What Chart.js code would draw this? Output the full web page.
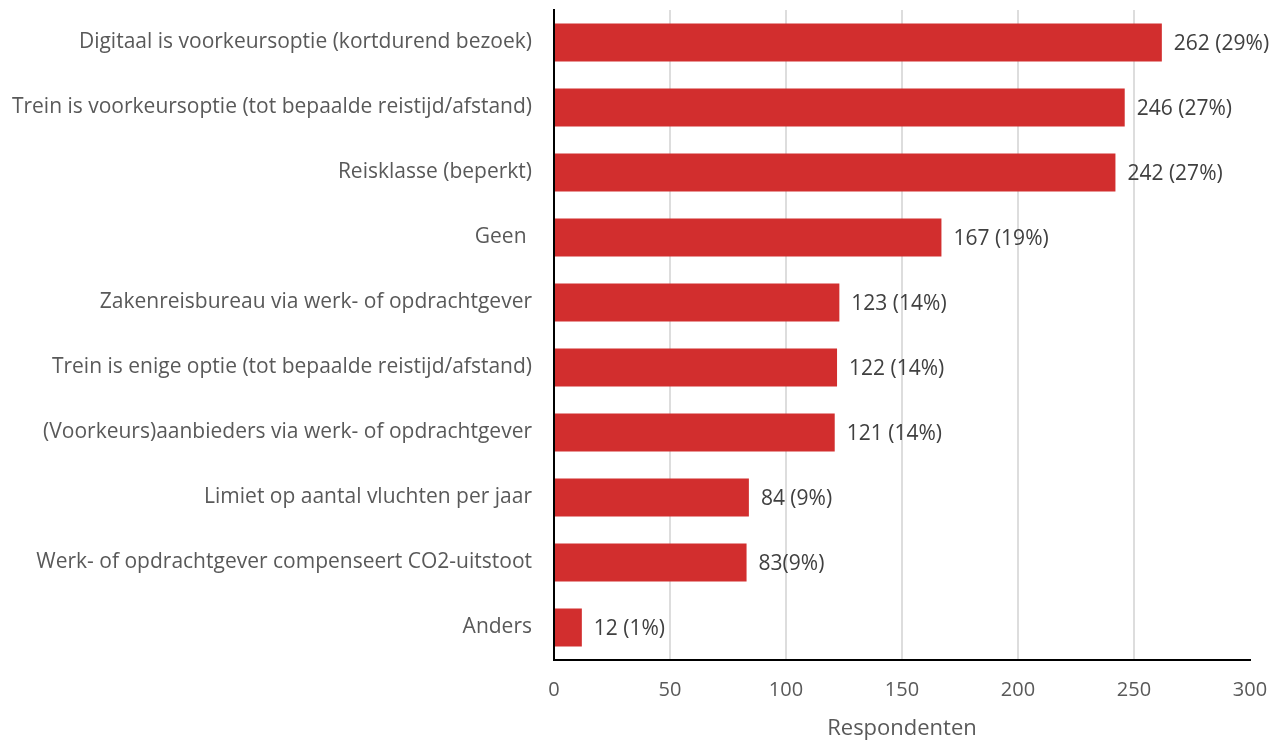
<!DOCTYPE html>
<html>
<head>
<meta charset="utf-8">
<script src="https://cdn.jsdelivr.net/npm/chart.js@4.4.1/dist/chart.umd.min.js"></script>
<style>
  html, body { margin: 0; padding: 0; background: #fff; }
  #wrap { width: 1281px; height: 742px; position: relative; }
</style>
</head>
<body>
<div id="wrap"><canvas id="maatregelen"></canvas></div>
<script>
'use strict';

// categories, top to bottom
var categories = [
    'Digitaal is voorkeursoptie (kortdurend bezoek)',
    'Trein is voorkeursoptie (tot bepaalde reistijd/afstand)',
    'Reisklasse (beperkt)',
    'Geen ',
    'Zakenreisbureau via werk- of opdrachtgever',
    'Trein is enige optie (tot bepaalde reistijd/afstand)',
    '(Voorkeurs)aanbieders via werk- of opdrachtgever',
    'Limiet op aantal vluchten per jaar',
    'Werk- of opdrachtgever compenseert CO2-uitstoot',
    'Anders'
];
var respondenten = [262, 246, 242, 167, 123, 122, 121, 84, 83, 12];
var valueLabels = [
    '262 (29%)', '246 (27%)', '242 (27%)', '167 (19%)', '123 (14%)',
    '122 (14%)', '121 (14%)', '84 (9%)', '83(9%)', '12 (1%)'
];
var xTicks = [0, 50, 100, 150, 200, 250, 300];

var FONT = "'Open Sans', Lato, sans-serif";
var TEXT = '#595959';

// writes the count + share right after each bar
var barLabels = {
    id: 'barLabels',
    afterDatasetsDraw: function (chart) {
        var ctx = chart.ctx;
        var meta = chart.getDatasetMeta(0);
        ctx.save();
        ctx.font = '21px ' + FONT;
        ctx.fillStyle = '#404040';
        ctx.textAlign = 'left';
        ctx.textBaseline = 'middle';
        meta.data.forEach(function (bar, i) {
            ctx.fillText(valueLabels[i], bar.x + 12, bar.y + 1.5);
        });
        ctx.restore();
    }
};

var chart = new Chart(document.getElementById('maatregelen'), {
    type: 'bar',
    data: {
        labels: categories,
        datasets: [{
            data: respondenten,
            backgroundColor: '#d22e2e',
            borderWidth: 0,
            barPercentage: 0.585,
            categoryPercentage: 1
        }]
    },
    plugins: [barLabels],
    options: {
        indexAxis: 'y',
        responsive: true,
        maintainAspectRatio: false,
        animation: false,
        layout: { padding: { top: 10, right: 31, bottom: 0, left: 0 } },
        plugins: {
            legend: { display: false },
            tooltip: { enabled: false }
        },
        scales: {
            x: {
                min: 0,
                max: 300,
                afterBuildTicks: function (scale) {
                    scale.ticks = xTicks.map(function (v) { return { value: v }; });
                },
                afterFit: function (scale) {
                    scale.height = 82;
                    scale.paddingLeft = 0;
                    scale.paddingRight = 0;
                },
                grid: {
                    drawTicks: false,
                    lineWidth: 2,
                    color: function (c) {
                        return (c.tick && (c.tick.value === 0 || c.tick.value === 300)) ? 'rgba(0,0,0,0)' : '#dddddd';
                    }
                },
                border: { display: true, color: '#000', width: 2 },
                ticks: {
                    padding: 18,
                    color: TEXT,
                    font: { family: FONT, size: 20 }
                },
                title: {
                    display: true,
                    text: 'Respondenten',
                    color: TEXT,
                    font: { family: FONT, size: 22 },
                    padding: { top: 8, bottom: 0 }
                }
            },
            y: {
                afterFit: function (scale) {
                    scale.width = 554;
                    scale.paddingTop = 0;
                    scale.paddingBottom = 0;
                },
                grid: { display: false, drawTicks: false },
                border: { display: true, color: '#000', width: 2 },
                ticks: {
                    padding: 22,
                    color: TEXT,
                    font: { family: FONT, size: 21 }
                }
            }
        }
    }
});
</script>
</body>
</html>
